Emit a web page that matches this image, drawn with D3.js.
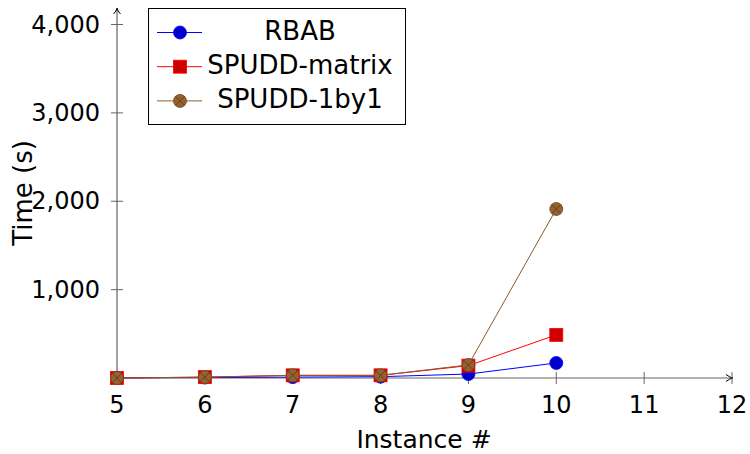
<!DOCTYPE html>
<html>
<head>
<meta charset="utf-8">
<script src="https://cdn.jsdelivr.net/npm/d3@7"></script>
<style>
  body { margin: 0; background: #fff; }
  text { font-family: "DejaVu Sans", sans-serif; fill: #000; }
</style>
</head>
<body>
<div id="chart"></div>
<script>
const instances = [5, 6, 7, 8, 9, 10];
const rbab = [2, 5, 10, 15, 45, 170];
const spuddMatrix = [0, 10, 30, 30, 140, 488];
const spudd1by1 = [0, 10, 30, 30, 148, 1912];
const xTicks = [5, 6, 7, 8, 9, 10, 11, 12];
const yTicks = [1000, 2000, 3000, 4000];
const seriesNames = ["RBAB", "SPUDD-matrix", "SPUDD-1by1"];

const width = 750, height = 454;
const svg = d3.select("#chart").append("svg")
  .attr("width", width).attr("height", height);

const x = d3.scaleLinear().domain([5, 12]).range([117, 732]);
const y = d3.scaleLinear().domain([0, 4000]).range([378, 24.5]);
const axisColor = "#666";

// axes lines
svg.append("line").attr("x1", x(5)).attr("x2", x(12)).attr("y1", y(0)).attr("y2", y(0))
  .attr("stroke", axisColor).attr("stroke-width", 1.2);
svg.append("line").attr("x1", x(5)).attr("x2", x(5)).attr("y1", y(0)).attr("y2", 9)
  .attr("stroke", axisColor).attr("stroke-width", 1.2);
// arrow heads
svg.append("path").attr("d", `M${x(12) - 6},${y(0) - 3.5} Q${x(12) - 2},${y(0) - 0.5} ${x(12) + 1},${y(0)} Q${x(12) - 2},${y(0) + 0.5} ${x(12) - 6},${y(0) + 3.5}`)
  .attr("fill", "none").attr("stroke", "#000").attr("stroke-width", 1);
svg.append("path").attr("d", `M${x(5) - 3.5},14 Q${x(5) - 0.5},11 ${x(5)},8 Q${x(5) + 0.5},11 ${x(5) + 3.5},14`)
  .attr("fill", "none").attr("stroke", "#000").attr("stroke-width", 1);

// ticks
svg.selectAll(".xt").data(xTicks.slice(1)).enter().append("line")
  .attr("x1", d => x(d)).attr("x2", d => x(d)).attr("y1", y(0) - 6).attr("y2", y(0) + 6)
  .attr("stroke", axisColor).attr("stroke-width", 1);
svg.selectAll(".yt").data(yTicks).enter().append("line")
  .attr("x1", x(5) - 6).attr("x2", x(5) + 6).attr("y1", d => y(d)).attr("y2", d => y(d))
  .attr("stroke", axisColor).attr("stroke-width", 1);

svg.selectAll(".xl").data(xTicks).enter().append("text")
  .attr("x", d => x(d)).attr("y", 413).attr("text-anchor", "middle")
  .attr("font-size", 24).text(d => d);
const fmt = d3.format(",");
svg.selectAll(".yl").data(yTicks).enter().append("text")
  .attr("x", 100).attr("y", d => y(d) + 8).attr("text-anchor", "end")
  .attr("font-size", 24).text(d => fmt(d));

svg.append("text").attr("x", 424).attr("y", 448).attr("text-anchor", "middle")
  .attr("font-size", 25).text("Instance #");
svg.append("text").attr("transform", "translate(32,193) rotate(-90)")
  .attr("text-anchor", "middle").attr("font-size", 26).text("Time (s)");

const line = d3.line().x(d => x(d[0])).y(d => y(d[1]));
const brownFill = "#96612f", brownLine = "#8b5a2b";

const drawCircle = (g, cx, cy, fill, stroke) =>
  g.append("circle").attr("cx", cx).attr("cy", cy).attr("r", 6.5)
    .attr("fill", fill).attr("stroke", stroke).attr("stroke-width", 0.8);
const drawSquare = (g, cx, cy) =>
  g.append("rect").attr("x", cx - 6.5).attr("y", cy - 6.5).attr("width", 13).attr("height", 13)
    .attr("fill", "#cc0000").attr("stroke", "#ff0000").attr("stroke-width", 0.8);
const drawOtimes = (g, cx, cy) => {
  g.append("circle").attr("cx", cx).attr("cy", cy).attr("r", 6.5)
    .attr("fill", brownFill).attr("stroke", "#6e4520").attr("stroke-width", 0.8);
  const r = 4.6;
  g.append("path").attr("d", `M${cx - r},${cy - r}L${cx + r},${cy + r}M${cx - r},${cy + r}L${cx + r},${cy - r}`)
    .attr("stroke", "#5a3818").attr("stroke-width", 0.8);
};

const series = [
  { vals: rbab, color: "#0000ff", mark: (g, a, b) => drawCircle(g, a, b, "#0000cc", "#0000ff") },
  { vals: spuddMatrix, color: "#ff0000", mark: drawSquare },
  { vals: spudd1by1, color: brownLine, mark: drawOtimes }
];

series.forEach(s => {
  const pts = instances.map((d, i) => [d, s.vals[i]]);
  const g = svg.append("g");
  g.append("path").datum(pts).attr("d", line).attr("fill", "none")
    .attr("stroke", s.color).attr("stroke-width", 1);
  pts.forEach(p => s.mark(g, x(p[0]), y(p[1])));
});

// legend
const lg = svg.append("g");
lg.append("rect").attr("x", 148.5).attr("y", 8.5).attr("width", 257).attr("height", 116)
  .attr("fill", "#fff").attr("stroke", "#000").attr("stroke-width", 1);
seriesNames.forEach((name, i) => {
  const cy = 32.5 + i * 34.2;
  lg.append("line").attr("x1", 157).attr("x2", 202).attr("y1", cy).attr("y2", cy)
    .attr("stroke", series[i].color).attr("stroke-width", 1);
  series[i].mark(lg, 180, cy);
  lg.append("text").attr("x", 300).attr("y", cy + 7.5).attr("text-anchor", "middle")
    .attr("font-size", 26).text(name);
});
</script>
</body>
</html>
